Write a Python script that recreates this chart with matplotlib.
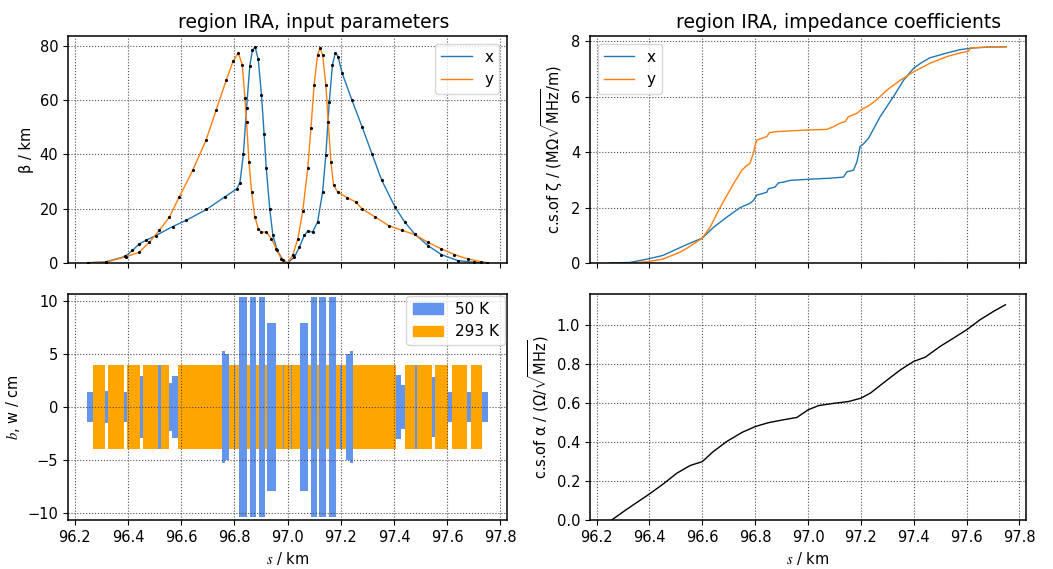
import matplotlib
matplotlib.use("Agg")
from matplotlib import pyplot as plt
from matplotlib.ticker import MultipleLocator
import matplotlib.patches as mpatches
import numpy as np

plt.rcParams['mathtext.fontset'] = 'custom'
plt.rcParams['mathtext.rm'] = 'DejaVu Sans'
plt.rcParams['mathtext.it'] = 'STIXGeneral:italic'
plt.rcParams['mathtext.bf'] = 'DejaVu Sans:bold'

# beta functions (km)
betx_s = [96.25, 96.316, 96.39, 96.417, 96.442, 96.467, 96.505, 96.568, 96.619, 96.695,
          96.765, 96.809, 96.821, 96.834, 96.846, 96.858, 96.868, 96.878, 96.89, 96.902,
          96.912, 96.92, 96.933, 96.945, 96.961, 96.983, 97.0,
          97.026, 97.045, 97.063, 97.076, 97.094, 97.113, 97.132, 97.144, 97.157, 97.169,
          97.18, 97.19, 97.205, 97.242, 97.28, 97.317, 97.354, 97.404, 97.441, 97.478,
          97.528, 97.578, 97.64, 97.70, 97.75]
betx = [0.1, 0.4, 2.4, 4.6, 7.0, 8.3, 10.1, 13.4, 15.7, 19.7,
        24.4, 27.3, 29.5, 40.0, 57.0, 72.5, 78.3, 79.6, 75.0, 62.0,
        47.5, 35.0, 20.0, 10.2, 4.7, 1.0, 0.0,
        2.2, 5.9, 10.2, 11.7, 11.4, 15.1, 26.2, 39.8, 59.4, 73.0,
        77.5, 76.0, 70.0, 60.0, 50.2, 40.3, 30.5, 20.6, 15.0, 10.7,
        6.4, 3.1, 0.9, 0.25, 0.0]

bety_s = [96.25, 96.316, 96.392, 96.442, 96.48, 96.518, 96.556, 96.593, 96.644, 96.694,
          96.732, 96.77, 96.796, 96.815, 96.83, 96.84, 96.846, 96.855, 96.865, 96.877,
          96.89, 96.902, 96.92, 96.939, 96.958, 96.976, 97.0,
          97.02, 97.039, 97.057, 97.076, 97.088, 97.1, 97.113, 97.122, 97.132, 97.144,
          97.153, 97.163, 97.173, 97.188, 97.225, 97.256, 97.28, 97.33, 97.38, 97.43,
          97.478, 97.528, 97.578, 97.627, 97.677, 97.727, 97.75]
bety = [0.1, 0.25, 2.3, 3.9, 7.6, 12.0, 16.9, 24.3, 34.2, 45.3,
        56.4, 67.4, 74.5, 77.3, 73.0, 60.7, 52.0, 37.3, 26.2, 17.0,
        12.7, 11.4, 11.4, 9.0, 5.3, 1.6, 0.0,
        3.0, 9.0, 19.0, 34.8, 49.6, 65.6, 76.7, 79.1, 76.7, 65.6,
        52.0, 37.3, 28.7, 26.2, 24.0, 22.5, 20.0, 16.9, 13.8, 12.0,
        10.5, 7.6, 5.2, 3.1, 1.5, 0.5, 0.1]

# cumulative sums of zeta
zx_s = [96.25, 96.326, 96.396, 96.45, 96.503, 96.54, 96.6, 96.644, 96.692, 96.743,
        96.78, 96.793, 96.806, 96.825, 96.844, 96.85, 96.875, 96.888, 96.907, 96.932,
        97.0, 97.084, 97.134, 97.147, 97.172, 97.185, 97.197, 97.21, 97.229, 97.273,
        97.323, 97.362, 97.4, 97.425, 97.46, 97.526, 97.576, 97.627, 97.677, 97.75]
zx = [0.0, 0.02, 0.15, 0.27, 0.5, 0.66, 0.9, 1.3, 1.65, 2.0,
      2.15, 2.25, 2.45, 2.5, 2.55, 2.68, 2.74, 2.89, 2.92, 2.98,
      3.02, 3.06, 3.1, 3.29, 3.35, 3.65, 4.2, 4.3, 4.5, 5.28,
      6.0, 6.6, 7.03, 7.2, 7.4, 7.58, 7.7, 7.76, 7.79, 7.8]
zy_s = [96.326, 96.396, 96.45, 96.516, 96.553, 96.6, 96.63, 96.667, 96.718, 96.75,
        96.77, 96.78, 96.793, 96.8, 96.806, 96.825, 96.844, 96.854, 96.88, 96.92,
        97.0, 97.07, 97.097, 97.12, 97.14, 97.153, 97.185, 97.204, 97.229, 97.26,
        97.3, 97.35, 97.4, 97.46, 97.526, 97.576, 97.608, 97.614, 97.677, 97.75]
zy = [0.0, 0.05, 0.14, 0.39, 0.6, 0.9, 1.3, 2.0, 2.86, 3.35,
      3.53, 3.59, 3.95, 4.25, 4.43, 4.5, 4.56, 4.7, 4.74, 4.76,
      4.8, 4.82, 4.92, 5.04, 5.1, 5.28, 5.4, 5.55, 5.67, 5.89,
      6.25, 6.6, 6.9, 7.2, 7.45, 7.58, 7.64, 7.76, 7.79, 7.8]

# cumulative sum of alpha
al_s = [96.257, 96.314, 96.398, 96.452, 96.503, 96.554, 96.6, 96.64, 96.692, 96.75,
        96.8, 96.85, 96.907, 96.958, 97.0, 97.04, 97.1, 97.154, 97.2, 97.236,
        97.3, 97.35, 97.4, 97.444, 97.5, 97.551, 97.601, 97.652, 97.702, 97.747]
al = [0.0, 0.055, 0.132, 0.185, 0.24, 0.28, 0.30, 0.35, 0.403, 0.45,
      0.48, 0.50, 0.515, 0.527, 0.566, 0.588, 0.60, 0.609, 0.626, 0.652,
      0.72, 0.772, 0.815, 0.837, 0.892, 0.935, 0.978, 1.03, 1.072, 1.106]

# apertures: 50 K elements (start, end, half height in cm)
cold_s0 = [96.2475, 96.313, 96.384, 96.444, 96.515, 96.554, 96.566, 96.754, 96.766, 96.797,
           96.816, 96.86, 96.891, 96.924, 96.982, 97.013, 97.046, 97.087, 97.12, 97.155,
           97.197, 97.221, 97.234, 97.409, 97.425, 97.478, 97.544, 97.603, 97.674, 97.731]
cold_s1 = [96.269, 96.325, 96.396, 96.456, 96.526, 96.566, 96.588, 96.766, 96.779, 96.803,
           96.847, 96.882, 96.916, 96.955, 96.987, 97.018, 97.077, 97.112, 97.143, 97.183,
           97.203, 97.234, 97.246, 97.425, 97.44, 97.488, 97.556, 97.619, 97.69, 97.753]
cold_h = [1.4, 1.5, 1.4, 2.9, 4.0, 2.3, 2.9, 5.3, 5.0, 4.0,
          10.4, 10.4, 10.4, 8.0, 4.0, 4.0, 8.0, 10.4, 10.4, 10.4,
          4.0, 5.0, 5.3, 3.0, 2.1, 4.0, 2.8, 1.4, 1.4, 1.4]
# 293 K elements
warm_s0 = [96.269, 96.325, 96.396, 96.456, 96.588, 96.779, 97.246, 97.44, 97.556, 97.619, 97.69]
warm_s1 = [96.313, 96.384, 96.444, 96.554, 96.754, 97.221, 97.409, 97.544, 97.603, 97.674, 97.731]
warm_h = [4.0] * len(warm_s0)

fig = plt.figure(figsize=(10.53, 5.69), dpi=100)
ax1 = fig.add_axes([0.0646, 0.5378, 0.4169, 0.3989])
ax3 = fig.add_axes([0.0646, 0.0861, 0.4169, 0.3972], sharex=ax1)
ax2 = fig.add_axes([0.5603, 0.5378, 0.4141, 0.3989], sharex=ax1)
ax4 = fig.add_axes([0.5603, 0.0861, 0.4141, 0.3972], sharex=ax1)

fs = 10.5

ax1.plot(betx_s, betx, color='C0', lw=1.0, label='x')
ax1.plot(bety_s, bety, color='C1', lw=1.0, label='y')
ax1.plot(betx_s, betx, '.', color='k', ms=2.5)
ax1.plot(bety_s, bety, '.', color='k', ms=2.5)
ax1.set_ylim(bottom=0)
ax1.set_ylabel('β / km', fontsize=fs)
ax1.set_title('region IRA, input parameters', fontsize=13.5, x=0.56)
ax1.legend(loc='upper right', fontsize=11)

w0 = np.array(warm_s0)
w1 = np.array(warm_s1)
wh = np.array(warm_h)
ax3.bar(w0, 2 * wh, width=w1 - w0, bottom=-wh, align='edge', color='orange')
c0 = np.array(cold_s0)
c1 = np.array(cold_s1)
ch = np.array(cold_h)
ax3.bar(c0, 2 * ch, width=c1 - c0, bottom=-ch, align='edge', color='cornflowerblue')
ax3.set_ylim(-10.7, 10.7)
ax3.set_yticks([-10, -5, 0, 5, 10])
ax3.set_ylabel('$b$, w / cm', fontsize=fs)
ax3.set_xlabel('$s$ / km', fontsize=fs)
handles = [mpatches.Patch(color='cornflowerblue', label='50 K'),
           mpatches.Patch(color='orange', label='293 K')]
ax3.legend(handles=handles, loc='upper right', fontsize=11, borderaxespad=0.1)

ax2.plot(zx_s, zx, color='C0', lw=1.0, label='x')
ax2.plot(zy_s, zy, color='C1', lw=1.0, label='y')
ax2.set_ylim(bottom=0)
ax2.set_ylabel(r'c.s.of ζ / (MΩ$\sqrt{\mathrm{MHz}}$/m)', fontsize=fs)
ax2.set_title('region IRA, impedance coefficients', fontsize=13.5, x=0.57)
ax2.legend(loc='upper left', fontsize=11)

ax4.plot(al_s, al, color='k', lw=1.0)
ax4.set_ylim(bottom=0)
ax4.set_ylabel(r'c.s.of α / (Ω/$\sqrt{\mathrm{MHz}}$)', fontsize=fs)
ax4.set_xlabel('$s$ / km', fontsize=fs)

ax1.set_xlim(96.175, 97.825)
ax1.xaxis.set_major_locator(MultipleLocator(0.2))
ax1.xaxis.set_major_formatter('{x:.1f}')

for ax in [ax1, ax2, ax3, ax4]:
    ax.grid(True, ls=':', color='0.3', lw=0.8)
    ax.tick_params(labelsize=fs)
    for sp in ax.spines.values():
        sp.set_linewidth(1.1)
ax1.tick_params(labelbottom=False)
ax2.tick_params(labelbottom=False)

fig.savefig('out.png', dpi=100)
